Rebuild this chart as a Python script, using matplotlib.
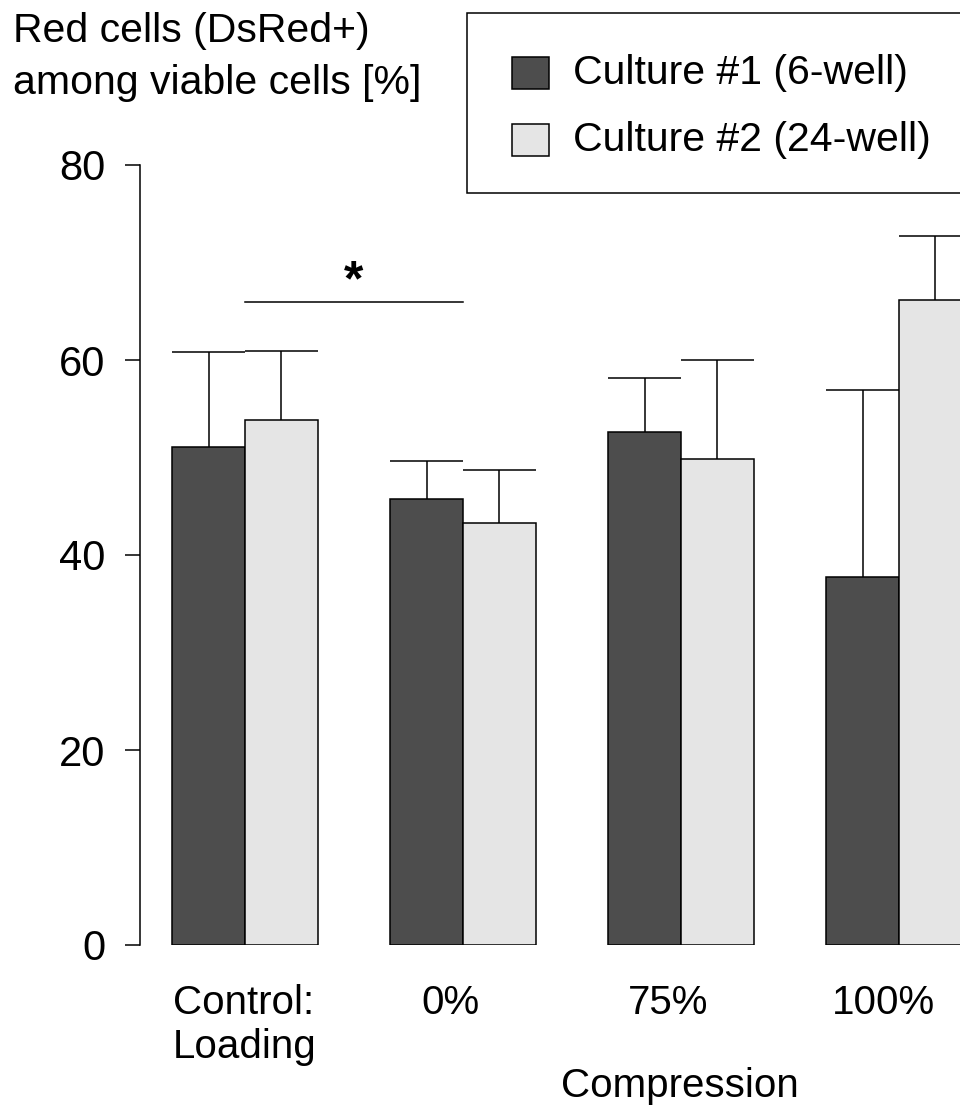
import matplotlib
matplotlib.use('Agg')
import matplotlib.pyplot as plt
from matplotlib.patches import Rectangle
import numpy as np

plt.rcParams['font.family'] = ['Liberation Sans', 'DejaVu Sans']

groups = ['Control:\nLoading', '0%', '75%', '100%']
label_pos = [0.0, 2.83, 5.82, 8.79]
series = ['Culture #1 (6-well)', 'Culture #2 (24-well)']
culture1 = [51.1, 45.7, 52.6, 37.7]
culture1_err = [9.7, 3.9, 5.6, 19.2]
culture2 = [53.8, 43.3, 49.8, 66.2]
culture2_err = [7.1, 5.4, 10.2, 6.5]
colors = ['#4d4d4d', '#e5e5e5']
sig_pair = (0, 1)
sig_y = 65.95

W, H = 960, 1106
fig = plt.figure(figsize=(W / 100, H / 100), dpi=100)
ax = fig.add_axes([140 / W, 161 / H, 820 / W, 780 / H])

x = np.arange(len(groups)) * 3.0
for off, vals, errs, c in [(-0.5, culture1, culture1_err, colors[0]),
                           (0.5, culture2, culture2_err, colors[1])]:
    xs = x + off
    ax.bar(xs, vals, width=1.0, color=c, edgecolor='black', linewidth=1.1, zorder=2)
    tops = np.array(vals) + np.array(errs)
    ax.vlines(xs, vals, tops, color='black', linewidth=1.1, zorder=3)
    ax.hlines(tops, xs - 0.5, xs + 0.5, color='black', linewidth=1.1, zorder=3)

# significance bar
x0, x1 = x[sig_pair[0]], x[sig_pair[1]]
ax.plot([x0, x1], [sig_y, sig_y], color='black', lw=1.1)
ax.text((x0 + x1) / 2, 66.6, '*', ha='center', va='baseline',
        fontsize=36, fontweight='bold')

ax.set_xlim(-1.445, 9.84)
ax.set_ylim(0, 80)
ax.set_yticks([0, 20, 40, 60, 80])
ax.tick_params(axis='y', length=10.8, width=1.1, pad=14, labelsize=30)
ax.set_xticks(label_pos, groups)
ax.tick_params(axis='x', length=0, pad=28, labelsize=29)
ax.get_xticklabels()[0].set_multialignment('left')
for s in ['top', 'right', 'bottom']:
    ax.spines[s].set_visible(False)
ax.spines['left'].set_linewidth(1.1)


def fx(px):
    return px / W


def fy(py):
    return 1 - py / H


fig.text(fx(13), fy(42), 'Red cells (DsRed+)', fontsize=29.5, va='baseline')
fig.text(fx(13), fy(94), 'among viable cells [%]', fontsize=29.5, va='baseline')
fig.text(fx(680), fy(1097), 'Compression', fontsize=29, ha='center', va='baseline')

# legend box
fig.add_artist(Rectangle((fx(467), fy(193)), 600 / W, 180 / H, transform=fig.transFigure,
                         facecolor='white', edgecolor='black', linewidth=1.1, clip_on=False))
for i, (name, c) in enumerate(zip(series, colors)):
    yc = 73 + 67 * i
    fig.add_artist(Rectangle((fx(512), fy(yc + 16)), 37 / W, 32 / H, transform=fig.transFigure,
                             facecolor=c, edgecolor='black', linewidth=1.1))
    fig.text(fx(573), fy(yc), name, fontsize=29.5, va='center')

fig.savefig('out.png', dpi=100)
